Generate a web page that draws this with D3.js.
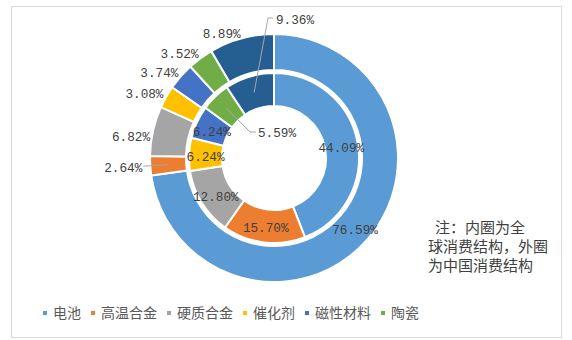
<!DOCTYPE html>
<html>
<head>
<meta charset="utf-8">
<script src="https://cdn.jsdelivr.net/npm/d3@7/dist/d3.min.js"></script>
<style>
  html, body { margin: 0; padding: 0; background: #fff; }
  svg { display: block; }
</style>
</head>
<body>
<svg id="chart" width="572" height="340"></svg>
<script>
// ---- data ----
const categories   = ["电池", "高温合金", "硬质合金", "催化剂", "磁性材料", "陶瓷", "其他"];
const innerValues  = [44.09, 15.70, 12.80, 6.24, 6.24, 5.59, 9.36];   // 全球消费结构
const outerValues  = [76.59, 2.64, 6.82, 3.08, 3.74, 3.52, 8.89];     // 中国消费结构
const legendLabels = ["电池", "高温合金", "硬质合金", "催化剂", "磁性材料", "陶瓷"];
const noteLines    = ["注：内圈为全", "球消费结构，外圈", "为中国消费结构"];
const palette      = ["#5B9BD5", "#ED7D31", "#A5A5A5", "#FFC000", "#4472C4", "#70AD47", "#255E91"];

// ---- layout ----
const W = 572, H = 340;
const cx = 274, cy = 158;
const outerR1 = 124, outerR0 = 88;
const innerR1 = 85, innerR0 = 52;

const svg = d3.select("#chart");
const color = d3.scaleOrdinal().domain(categories).range(palette);
const fmt = v => d3.format(".2f")(v) + "%";
const labelFont = "'Liberation Mono', 'DejaVu Sans Mono', monospace";
const cjkFont = "'Noto Sans CJK SC', 'Noto Sans', sans-serif";

// chart border
svg.append("rect")
  .attr("x", 11.5).attr("y", 6.5).attr("width", 550).attr("height", 331)
  .attr("fill", "#fff").attr("stroke", "#d9d9d9").attr("stroke-width", 1);

const pie = d3.pie().sort(null).value(d => d.v);
const toData = vals => vals.map((v, i) => ({ name: categories[i], v }));
const outerArcs = pie(toData(outerValues));
const innerArcs = pie(toData(innerValues));

const arcOuter = d3.arc().innerRadius(outerR0).outerRadius(outerR1);
const arcInner = d3.arc().innerRadius(innerR0).outerRadius(innerR1);

const g = svg.append("g").attr("transform", `translate(${cx},${cy})`);

g.append("g").selectAll("path").data(outerArcs).join("path")
  .attr("d", arcOuter)
  .attr("fill", d => color(d.data.name))
  .attr("stroke", "#fff").attr("stroke-width", 2).attr("stroke-linejoin", "round");

g.append("g").selectAll("path").data(innerArcs).join("path")
  .attr("d", arcInner)
  .attr("fill", d => color(d.data.name))
  .attr("stroke", "#fff").attr("stroke-width", 2).attr("stroke-linejoin", "round");

const polar = (a, r) => [r * Math.sin(a), -r * Math.cos(a)];
const mid = d => (d.startAngle + d.endAngle) / 2;
const labels = g.append("g")
  .attr("font-family", labelFont).attr("font-size", 12.7).attr("fill", "#404040");
const leaders = g.append("g").attr("fill", "none").attr("stroke", "#a6a6a6").attr("stroke-width", 1);

// inner labels (centroids), with leader lines for the last two small slices
innerArcs.forEach((d, i) => {
  const c = arcInner.centroid(d);
  if (i < 5) {
    labels.append("text").attr("x", c[0]).attr("y", c[1] + 2).attr("dy", "0.35em")
      .attr("text-anchor", "middle").text(fmt(d.data.v));
  } else if (i === 5) {
    const elbow = [-24, -26], end = [-18, -26];
    leaders.append("polyline").attr("points", [c, elbow, end].map(p => p.join(",")).join(" "));
    labels.append("text").attr("x", end[0] + 2).attr("y", end[1] + 1).attr("dy", "0.35em")
      .attr("text-anchor", "start").text(fmt(d.data.v));
  } else {
    const elbow = [-6, -140], end = [-1, -140];
    leaders.append("polyline").attr("points", [c, elbow, end].map(p => p.join(",")).join(" "));
    labels.append("text").attr("x", end[0] + 3).attr("y", end[1] + 2).attr("dy", "0.35em")
      .attr("text-anchor", "start").text(fmt(d.data.v));
  }
});

// outer labels
outerArcs.forEach((d, i) => {
  const a = mid(d);
  if (i === 0) {
    const c = arcOuter.centroid(d);
    labels.append("text").attr("x", c[0] + 1).attr("y", c[1] + 2).attr("dy", "0.35em")
      .attr("text-anchor", "middle").text(fmt(d.data.v));
  } else if (i === 1) {
    const p0 = arcOuter.centroid(d), p1 = polar(a, 131);
    leaders.append("line").attr("x1", p0[0]).attr("y1", p0[1]).attr("x2", p1[0]).attr("y2", p1[1]);
    labels.append("text").attr("x", p1[0] - 1).attr("y", p1[1] + 1).attr("dy", "0.35em")
      .attr("text-anchor", "end").text(fmt(d.data.v));
  } else {
    const p = polar(a, 127);
    const nudge = i === 2 ? 6 : -2;
    labels.append("text").attr("x", p[0]).attr("y", p[1] + nudge).attr("dy", "0.35em")
      .attr("text-anchor", "end").text(fmt(d.data.v));
  }
});

// legend
const legend = svg.append("g").attr("font-family", cjkFont).attr("font-size", 14).attr("fill", "#595959");
let lx = 43;
const ly = 313;
legendLabels.forEach((name, i) => {
  legend.append("rect").attr("x", lx).attr("y", ly - 2).attr("width", 4).attr("height", 4)
    .attr("fill", color(name));
  const t = legend.append("text").attr("x", lx + 10).attr("y", ly).attr("dy", "0.35em").text(name);
  lx += 10 + t.node().getComputedTextLength() + 10;
});

// note
const note = svg.append("g").attr("font-family", cjkFont).attr("font-size", 15).attr("fill", "#404040");
const noteX = [435, 428, 428];
noteLines.forEach((line, i) => {
  note.append("text").attr("x", noteX[i]).attr("y", 228 + i * 19).attr("dy", "0.35em").text(line);
});
</script>
</body>
</html>
